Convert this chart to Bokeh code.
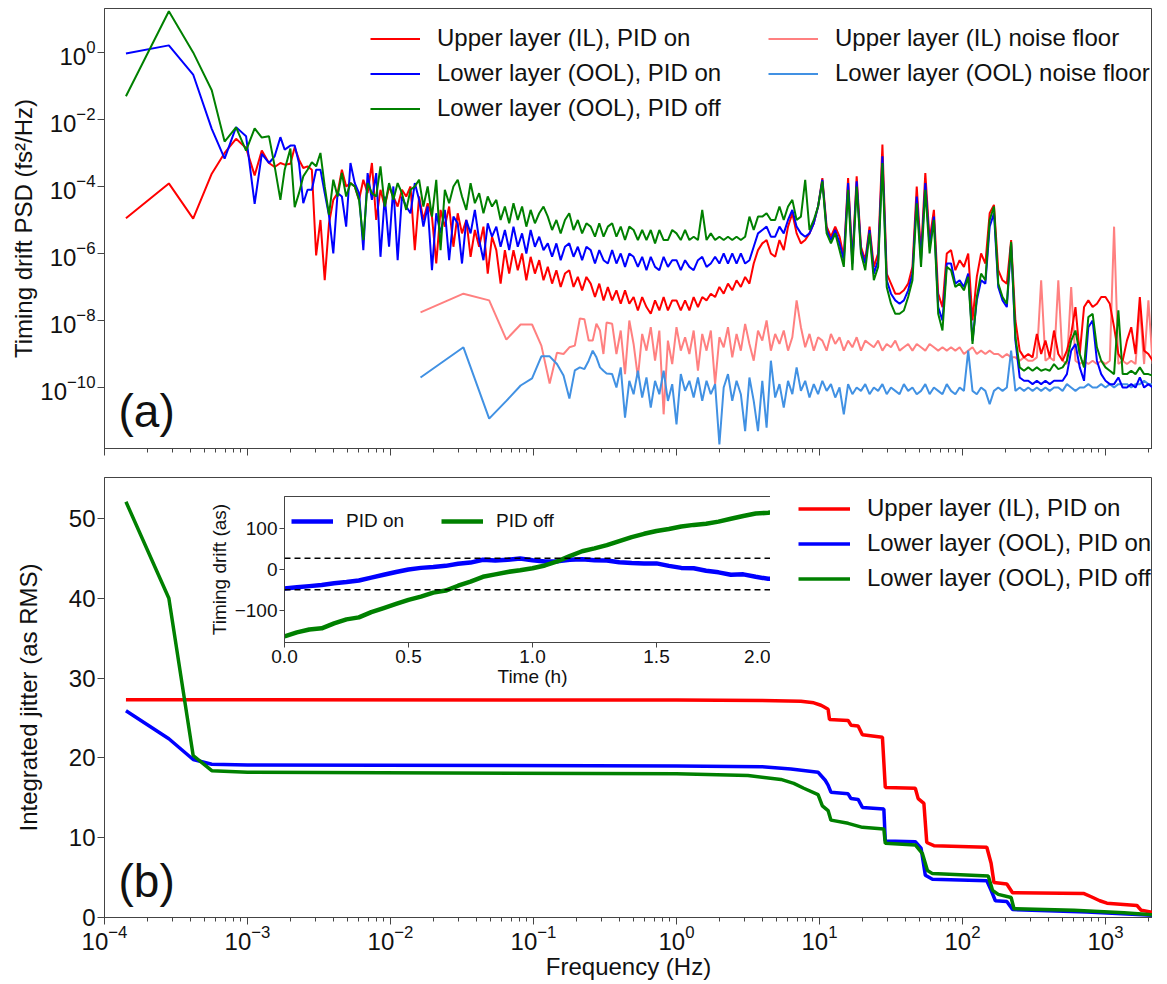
import numpy as np
from bokeh.plotting import figure
from bokeh.models import (Range1d, FixedTicker, CustomJSTickFormatter, PrintfTickFormatter,
                          Legend, LegendItem, Label, Span)
from bokeh.layouts import column
from bokeh.embed import file_html
from bokeh.resources import INLINE

FONT = "Liberation Sans"

# ---------------- (a) PSD data: log10(frequency / Hz) and log10(PSD / fs^2/Hz) ----------------
psd_logf = [
    -3.85, -3.55, -3.38, -3.25, -3.16, -3.08, -3.01, -2.95, -2.90, -2.85,
    -2.81, -2.77, -2.74, -2.70, -2.67, -2.64, -2.61, -2.58, -2.55, -2.52,
    -2.49, -2.46, -2.43,
    -2.40, -2.37, -2.34, -2.31, -2.28, -2.25, -2.22, -2.19, -2.16, -2.13,
    -2.10, -2.07, -2.04, -2.01, -1.98, -1.95, -1.92, -1.89, -1.86, -1.83,
    -1.80, -1.77, -1.74, -1.71, -1.68, -1.65, -1.62, -1.59, -1.56, -1.53,
    -1.50, -1.47, -1.44, -1.41, -1.38, -1.35, -1.32, -1.29, -1.26, -1.23,
    -1.20, -1.17, -1.14, -1.11, -1.08, -1.05, -1.02, -0.99, -0.96, -0.93,
    -0.90, -0.87, -0.84, -0.81, -0.78, -0.75, -0.72, -0.69, -0.66, -0.63,
    -0.60, -0.57, -0.54, -0.51, -0.48, -0.45, -0.42, -0.39, -0.36, -0.33,
    -0.30, -0.27, -0.24, -0.21, -0.18, -0.15, -0.12, -0.09, -0.06, -0.03,
    0.00, 0.03, 0.06, 0.09, 0.12, 0.15, 0.18, 0.21, 0.24, 0.27,
    0.30, 0.33, 0.36, 0.39, 0.42, 0.45, 0.48, 0.51, 0.54, 0.57,
    0.60, 0.63, 0.66, 0.69, 0.72, 0.75, 0.78, 0.81, 0.84, 0.87,
    0.90, 0.93, 0.96, 0.99, 1.02, 1.05, 1.08, 1.11, 1.14, 1.17,
    1.20, 1.23, 1.26, 1.29, 1.32, 1.35, 1.38, 1.41, 1.44, 1.47,
    1.50, 1.53, 1.56, 1.59, 1.62, 1.65, 1.68, 1.71, 1.74, 1.77,
    1.80, 1.83, 1.86, 1.89, 1.92, 1.95, 1.98, 2.01, 2.04, 2.07,
    2.10, 2.13, 2.16, 2.19, 2.22, 2.25, 2.28, 2.31, 2.34, 2.37,
    2.40, 2.43, 2.46, 2.49, 2.52, 2.55, 2.58, 2.61, 2.64, 2.67,
    2.70, 2.73, 2.76, 2.79, 2.82, 2.85, 2.88, 2.91, 2.94, 2.97,
    3.00, 3.03, 3.06, 3.09, 3.12, 3.15, 3.18, 3.21, 3.24, 3.27,
    3.30, 3.33, 3.36, 3.39, 3.42,
]

il_on_psd = [
    -4.95, -3.91, -4.96, -3.62, -3.0, -2.58, -2.85, -3.67, -2.93, -3.3,
    -3.42, -3.3, -3.35, -3.32, -2.83, -3.2, -3.45, -3.4, -3.5, -6.06,
    -5.0, -6.8, -5.1,
    -4.4, -4.2, -3.5, -4.0, -3.9, -4.0, -4.4, -3.8, -4.2, -3.3,
    -5.0, -4.1, -4.6, -4.0, -4.3, -4.6, -4.1, -4.3, -4.0, -5.9,
    -4.3, -5.0, -4.5, -4.9, -6.3, -4.7, -5.2, -4.6, -5.8, -4.8,
    -5.4, -5.0, -6.1, -5.3, -5.8, -5.2, -6.6, -5.5, -5.9, -6.9,
    -5.9, -6.6, -5.9, -6.5, -6.0, -6.8, -6.1, -6.6, -6.2, -6.8,
    -6.4, -6.9, -6.5, -7.0, -6.6, -6.5, -7.0, -6.7, -7.1, -6.7,
    -6.9, -7.3, -6.9, -7.4, -7.0, -7.4, -7.1, -7.5, -7.1, -7.5,
    -7.3, -7.7, -7.3, -7.6, -7.8, -7.4, -7.7, -7.3, -7.7, -7.4,
    -7.4, -7.7, -7.4, -7.7, -7.3, -7.6, -7.3, -7.4, -7.2, -7.3,
    -7.0, -7.2, -6.9, -7.1, -6.8, -7.0, -6.7, -6.9, -6.3, -5.9,
    -5.7, -5.6, -6.0, -6.1, -5.6, -5.9, -5.2, -4.8, -5.4, -5.7,
    -5.6, -5.4, -5.1, -4.6, -3.75, -5.2, -5.5, -5.2, -5.5, -6.1,
    -3.75, -6.2, -3.7, -5.8, -6.2, -5.2, -6.4, -6.0, -2.75, -6.6,
    -6.9, -7.2, -7.2, -7.1, -6.9, -6.4, -4.0, -6.0, -3.6, -5.6,
    -4.7, -7.2, -7.6, -6.0, -5.9, -6.5, -6.2, -6.4, -6.0, -8.0,
    -6.7, -6.0, -6.3, -4.8, -4.55, -6.5, -6.8, -6.9, -5.6, -8.0,
    -8.9, -9.1, -9.0, -9.1, -8.4, -9.0, -8.6, -9.1, -8.3, -9.0,
    -9.2, -8.9, -8.4, -7.6, -9.0, -7.6, -7.4, -7.6, -7.5, -7.3,
    -7.3, -7.5, -8.2, -9.0, -9.2, -8.6, -8.2, -9.0, -7.3, -8.9,
    -9.0, -9.2, -8.8, -9.1, -9.3,
]

ool_on_psd = [
    -0.03, 0.21, -0.66, -2.28, -3.17, -2.23, -2.5, -4.52, -3.03, -3.3,
    -3.1, -2.53, -2.9, -2.78, -2.78, -3.3, -4.5, -4.1, -4.1, -3.5,
    -3.5, -4.2, -4.87,
    -6.0, -4.2, -4.3, -5.2, -3.3, -3.9, -4.2, -5.9, -3.6, -4.4,
    -3.6, -6.1, -4.3, -5.8, -4.0, -6.2, -4.3, -4.6, -4.8, -3.9,
    -4.4, -5.2, -4.6, -6.5, -4.8, -5.4, -4.7, -6.2, -4.9, -5.1,
    -6.3, -5.0, -5.4, -4.7, -5.6, -6.2, -5.1, -5.5, -5.2, -5.8,
    -5.3, -5.9, -5.2, -5.8, -5.4, -6.0, -5.3, -5.8, -5.5, -5.9,
    -5.7, -6.1, -5.7, -6.2, -5.8, -5.7, -6.1, -5.8, -6.2, -5.8,
    -5.9, -6.3, -5.9, -6.2, -6.3, -5.9, -6.3, -6.0, -6.4, -6.0,
    -6.1, -6.4, -6.1, -6.5, -6.1, -6.4, -6.5, -6.1, -6.4, -6.2,
    -6.2, -6.5, -6.2, -6.4, -6.5, -6.2, -6.1, -6.4, -6.3, -6.1,
    -6.3, -6.0, -6.3, -6.0, -6.3, -6.0, -6.3, -6.2, -5.8, -5.4,
    -5.3, -5.2, -5.5, -5.5, -5.2, -5.4, -5.0, -4.7, -5.2, -5.4,
    -5.5, -5.4, -5.1, -4.6, -3.8, -5.3, -5.6, -5.3, -5.7, -6.2,
    -3.9, -6.3, -3.85, -5.9, -6.3, -5.3, -6.6, -6.2, -3.1, -6.8,
    -7.2, -7.4, -7.5, -7.4, -7.1, -6.6, -4.3, -6.2, -3.9, -5.8,
    -4.9, -7.6, -8.0, -6.3, -6.3, -6.9, -6.8, -7.0, -6.6, -8.6,
    -7.4, -6.8, -6.9, -5.2, -4.8, -7.0, -7.4, -7.6, -5.7, -8.6,
    -9.7, -9.8, -9.8, -9.9, -9.8, -9.9, -9.8, -9.9, -9.8, -9.8,
    -9.8, -9.6, -8.9, -8.7, -9.4, -9.8, -8.2, -8.0, -9.2, -9.6,
    -9.8, -9.9, -9.9, -9.7, -10.0, -10.0, -9.9, -10.0, -9.7, -10.0,
    -9.9, -10.0, -9.9, -9.9, -10.0,
]

ool_off_psd = [
    -1.31, 1.23, 0.0, -1.13, -2.66, -2.24, -2.93, -2.27, -2.54, -2.5,
    -3.4, -4.4, -3.5, -2.87, -4.62, -4.2, -3.7, -3.5, -3.28, -3.4,
    -3.0, -4.0, -4.85,
    -3.8, -4.3, -3.6, -4.3, -3.9, -4.0, -4.4, -5.6, -3.9, -4.2,
    -4.3, -3.4, -4.6, -3.9, -4.4, -3.9, -4.2, -4.7, -4.1, -4.0,
    -3.8, -4.6, -4.0, -4.9, -3.8, -5.9, -4.1, -4.5, -4.0, -3.8,
    -4.3, -4.7, -3.9, -4.5, -4.2, -4.8, -4.3, -4.6, -4.4, -5.0,
    -4.6, -5.1, -4.5, -5.0, -4.6, -5.2, -4.7, -5.1, -4.8, -4.6,
    -4.9, -5.3, -5.0, -5.4, -5.0, -4.8, -5.3, -5.0, -5.4, -5.1,
    -5.2, -5.5, -5.1, -5.5, -5.2, -5.1, -5.5, -5.2, -5.6, -5.2,
    -5.3, -5.6, -5.3, -5.6, -5.3, -5.7, -5.3, -5.6, -5.6, -5.3,
    -5.4, -5.6, -5.3, -5.6, -5.5, -5.6, -4.7, -5.6, -5.4, -5.6,
    -5.5, -5.6, -5.5, -5.6, -5.5, -5.6, -5.5, -4.9, -5.3, -4.9,
    -4.9, -4.8, -5.0, -5.0, -4.6, -5.0, -4.6, -4.4, -5.0, -4.9,
    -3.8, -5.3, -5.0, -4.6, -3.85, -5.4, -5.7, -5.4, -5.9, -6.4,
    -4.1, -6.5, -4.0, -6.0, -6.5, -5.4, -6.8, -6.4, -3.3, -7.0,
    -7.5, -7.8, -7.8, -7.7, -7.3, -6.8, -4.5, -6.4, -4.1, -6.0,
    -5.0, -7.8, -8.3, -6.4, -6.5, -7.0, -6.9, -7.1, -6.7, -8.7,
    -7.3, -6.6, -6.8, -5.0, -4.6, -6.9, -7.3, -7.5, -5.65, -8.5,
    -9.4, -9.5, -9.4, -9.5, -9.4, -9.5, -9.45, -9.5, -9.3, -9.45,
    -9.4, -9.2, -8.6, -8.3, -9.0, -9.4, -7.9, -7.8, -8.8, -9.2,
    -9.4, -9.5, -9.6, -7.7, -9.6, -9.6, -9.5, -9.6, -9.4, -9.6,
    -9.6, -9.65, -9.7, -9.7, -9.7,
]

# noise floors start at a coarser low-frequency grid, then share the main grid from -0.45
nf_low_logf = [-1.79, -1.49, -1.31, -1.19, -1.09, -1.01, -0.945, -0.887, -0.836, -0.79,
               -0.749, -0.711, -0.676, -0.644, -0.614, -0.586, -0.56, -0.535, -0.511, -0.489]
nf_logf = nf_low_logf + psd_logf[psd_logf.index(-0.45):]

il_floor_psd = [
    -7.76, -7.2, -7.4, -8.57, -8.12, -8.12, -8.75, -9.88, -8.96, -9.0,
    -8.8, -8.75, -7.94, -7.96, -8.6, -8.6, -8.1, -8.3, -9.0, -8.06,
    -8.1, -9.0, -8.3, -9.6, -8.0, -8.7, -9.7, -8.4, -8.9, -8.2,
    -9.2, -8.3, -10.8, -8.6, -9.3, -8.2, -8.9, -8.5, -9.0, -8.3,
    -9.5, -8.4, -8.9, -8.3, -9.9, -8.5, -8.8, -8.2, -9.1, -8.4,
    -8.9, -8.1, -8.7, -9.2, -8.3, -8.6, -8.0, -8.9, -8.4, -8.7,
    -8.3, -8.9, -8.5, -7.4, -8.2, -8.8, -8.4, -8.9, -8.5, -8.6,
    -8.9, -8.4, -8.7, -8.5, -8.9, -8.6, -8.8, -8.5, -8.9, -8.6,
    -8.7, -8.8, -8.6, -8.9, -8.7, -8.8, -8.6, -8.9, -8.8, -8.7,
    -8.9, -8.7, -8.8, -8.9, -8.7, -8.8, -8.9, -8.8, -8.9, -8.8,
    -8.9, -8.8, -9.0, -8.9, -8.8, -9.0, -8.9, -9.0, -8.9, -9.0,
    -9.0, -9.1, -9.0, -9.1, -9.1, -9.2, -9.1, -9.2, -9.2, -9.1,
    -6.8, -9.2, -9.1, -9.2, -6.8, -9.2, -9.3, -7.0, -9.2, -9.3,
    -9.2, -9.3, -9.2, -9.3, -9.2, -9.3, -9.2, -5.2, -9.3, -9.2,
    -9.3, -9.2, -9.3, -7.6, -9.3, -7.4, -9.3, -7.3, -9.3, -7.5,
]

ool_floor_psd = [
    -9.7, -8.8, -10.93, -10.4, -9.94, -9.73, -9.07, -9.07, -9.3, -9.64,
    -10.33, -9.49, -9.4, -9.45, -9.2, -8.9, -9.1, -9.4, -9.5, -9.58,
    -9.6, -10.0, -9.4, -10.9, -9.8, -10.2, -9.5, -10.3, -9.7, -10.6,
    -9.8, -10.2, -9.5, -10.4, -9.9, -11.1, -9.6, -10.1, -9.8, -10.3,
    -9.7, -10.4, -9.8, -10.2, -9.9, -11.7, -10.0, -9.6, -10.4, -9.8,
    -10.2, -11.3, -9.7, -10.4, -11.3, -9.8, -11.2, -9.2, -10.3, -9.9,
    -10.6, -9.8, -10.2, -9.4, -10.1, -9.8, -10.3, -9.9, -10.2, -9.8,
    -10.1, -9.9, -10.3, -10.0, -10.8, -9.9, -10.2, -10.0, -10.1, -9.9,
    -10.2, -10.0, -10.1, -9.9, -10.2, -10.0, -10.1, -10.2, -9.9, -10.1,
    -10.0, -10.2, -10.1, -9.9, -10.2, -10.0, -10.1, -10.2, -9.9, -10.1,
    -10.2, -10.0, -10.1, -8.9, -10.1, -10.2, -10.0, -10.1, -10.5, -10.1,
    -10.0, -10.1, -10.0, -8.9, -10.1, -10.0, -10.1, -10.0, -10.1, -10.0,
    -10.1, -10.0, -10.1, -10.0, -10.0, -10.1, -9.9, -10.0, -10.1, -10.0,
    -10.0, -9.9, -10.0, -10.0, -9.9, -10.0, -9.9, -10.0, -9.9, -9.9,
    -9.9, -10.0, -9.9, -9.9, -9.8, -9.9, -9.9, -9.8, -9.9, -9.8,
]

# ---------------- (b) integrated jitter (as RMS) vs log10(frequency) ----------------
il_on_jit_logf = [-3.85, 0.0, 0.6, 0.87, 0.96, 1.01, 1.03, 1.06, 1.07, 1.20, 1.22, 1.27, 1.30,
                  1.44, 1.46, 1.67, 1.69, 1.73, 1.75, 1.80, 2.17, 2.20, 2.22, 2.31, 2.35,
                  2.85, 2.90, 2.96, 3.01, 3.22, 3.25, 3.34, 3.43]
il_on_jit = [27.3, 27.25, 27.2, 27.1, 26.9, 26.6, 26.4, 26.1, 24.8, 24.7, 24.1, 24.0, 22.9,
             22.6, 16.3, 16.2, 14.9, 14.3, 9.4, 9.0, 8.8, 6.8, 4.4, 4.2, 3.1,
             3.0, 2.6, 2.1, 1.8, 1.5, 0.9, 0.6, 0.2]

ool_on_jit_logf = [-3.85, -3.55, -3.38, -3.25, -3.0, 0.0, 0.6, 0.8, 0.99, 1.04, 1.06, 1.08,
                   1.20, 1.22, 1.27, 1.30, 1.45, 1.46, 1.67, 1.71, 1.74, 1.79, 2.17, 2.20,
                   2.23, 2.31, 2.35, 2.87, 3.43]
ool_on_jit = [25.9, 22.4, 19.8, 19.2, 19.1, 19.0, 18.9, 18.6, 18.2, 17.2, 16.6, 15.7,
              15.5, 14.9, 14.8, 13.8, 13.6, 9.6, 9.5, 8.7, 5.3, 4.8, 4.6, 3.4,
              2.1, 2.0, 1.0, 0.7, 0.2]

ool_off_jit_logf = [-3.85, -3.55, -3.38, -3.25, -3.0, 0.0, 0.5, 0.73, 0.82, 0.89, 0.99, 1.02,
                    1.06, 1.08, 1.20, 1.30, 1.45, 1.46, 1.67, 1.72, 1.755, 1.79, 2.18, 2.21,
                    2.25, 2.34, 2.36, 2.78, 3.13, 3.43]
ool_off_jit = [52.1, 40.0, 20.3, 18.4, 18.2, 18.0, 17.8, 17.3, 16.8, 16.2, 15.4, 14.0,
               13.4, 12.2, 11.8, 11.3, 11.1, 9.3, 9.1, 8.0, 5.9, 5.5, 5.2, 3.4,
               2.9, 2.5, 1.1, 0.9, 0.6, 0.2]

# ---------------- inset: timing drift (as) vs time (h) ----------------
drift_t = [0.00, 0.05, 0.10, 0.15, 0.20, 0.25, 0.30, 0.35, 0.40, 0.45,
           0.50, 0.55, 0.60, 0.65, 0.70, 0.75, 0.80, 0.85, 0.90, 0.95,
           1.00, 1.05, 1.10, 1.15, 1.20, 1.25, 1.30, 1.35, 1.40, 1.45,
           1.50, 1.55, 1.60, 1.65, 1.70, 1.75, 1.80, 1.85, 1.90, 1.95, 2.00]
drift_pid_on = [-47, -44, -41, -38, -34, -31, -27, -20, -13, -6,
                0, 4, 6, 9, 14, 17, 24, 22, 24, 27,
                23, 20, 20, 24, 25, 23, 22, 18, 16, 15,
                15, 9, 4, 3, -3, -7, -13, -12, -18, -23, -22]
drift_pid_off = [-165, -155, -148, -145, -133, -123, -118, -105, -95, -85,
                 -75, -67, -57, -52, -40, -30, -18, -12, -6, -2,
                 3, 10, 20, 33, 45, 52, 60, 70, 80, 88,
                 95, 100, 106, 110, 113, 118, 125, 132, 138, 140, 143]
drift_band = [28, -50]

labels_top = ["Upper layer (IL), PID on", "Lower layer (OOL), PID on", "Lower layer (OOL), PID off",
              "Upper layer (IL) noise floor", "Lower layer (OOL) noise floor"]
labels_inset = ["PID on", "PID off"]

# ---------------- styling ----------------
RED, BLUE, GREEN = "#ff0000", "#0000ff", "#008000"
PINK, LBLUE = "#ff8080", "#4191e3"
AXC = "#444444"
TXT = "#111111"


def style_axes(p, fs="24px", tick_out=7, minor_out=4):
    for ax in p.axis:
        ax.axis_line_color = AXC
        ax.major_tick_line_color = AXC
        ax.minor_tick_line_color = AXC
        ax.major_tick_in = 0
        ax.major_tick_out = tick_out
        ax.minor_tick_in = 0
        ax.minor_tick_out = minor_out
        ax.major_label_text_font = FONT
        ax.major_label_text_font_size = fs
        ax.major_label_text_color = TXT
        ax.axis_label_text_font = FONT
        ax.axis_label_text_font_size = fs
        ax.axis_label_text_font_style = "normal"
        ax.axis_label_text_color = TXT
        ax.major_label_standoff = 2
        ax.axis_label_standoff = 2
    p.grid.visible = False
    p.outline_line_color = AXC
    p.outline_line_width = 1
    p.background_fill_color = "white"
    p.border_fill_color = "white"


def make_legend(items, loc, lw_font="24px", gw=50, standoff=17, spacing=7, h=25, orient="vertical"):
    return Legend(items=items, location=loc, orientation=orient, border_line_color=None,
                  background_fill_alpha=0, padding=0, margin=0, spacing=spacing,
                  glyph_width=gw, glyph_height=h, label_height=h, label_standoff=standoff,
                  label_text_font=FONT, label_text_font_size=lw_font, label_text_color=TXT)


FRAME_W, FRAME_H = 1048, 440
X_LO, X_HI = 1e-4, 10 ** (FRAME_W / 143 - 4)
decades = [10.0 ** d for d in range(-4, 4)]
minors = [k * 10.0 ** d for d in range(-4, 4) for k in range(2, 10)]

# ---------------- panel (a) ----------------
p1 = figure(frame_width=FRAME_W, frame_height=FRAME_H, x_axis_type="log", y_axis_type="log",
            x_range=Range1d(X_LO, X_HI), y_range=Range1d(10 ** -11.82, 10 ** 1.31),
            output_backend="svg", toolbar_location=None,
            min_border_left=104, min_border_right=0, min_border_top=8, min_border_bottom=14)
style_axes(p1)
p1.xaxis.ticker = FixedTicker(ticks=decades, minor_ticks=minors)
p1.xaxis.formatter = CustomJSTickFormatter(code="return '';")
p1.xaxis.major_label_standoff = 0
p1.yaxis.ticker = FixedTicker(ticks=[10.0 ** e for e in (-10, -8, -6, -4, -2, 0)], minor_ticks=[])
p1.yaxis.axis_label = "Timing drift PSD (fs²/Hz)"
p1.yaxis.axis_label_standoff = 0

f_main = np.power(10.0, psd_logf)
f_nf = np.power(10.0, nf_logf)
r_pink = p1.line(f_nf, np.power(10.0, il_floor_psd), line_color=PINK, line_width=2)
r_lblue = p1.line(f_nf, np.power(10.0, ool_floor_psd), line_color=LBLUE, line_width=2)
r_red = p1.line(f_main, np.power(10.0, il_on_psd), line_color=RED, line_width=2)
r_blue = p1.line(f_main, np.power(10.0, ool_on_psd), line_color=BLUE, line_width=2)
r_green = p1.line(f_main, np.power(10.0, ool_off_psd), line_color=GREEN, line_width=2)

leg1 = make_legend([LegendItem(label=labels_top[0], renderers=[r_red]),
                    LegendItem(label=labels_top[1], renderers=[r_blue]),
                    LegendItem(label=labels_top[2], renderers=[r_green])], (266, 326))
leg2 = make_legend([LegendItem(label=labels_top[3], renderers=[r_pink]),
                    LegendItem(label=labels_top[4], renderers=[r_lblue])], (664, 361))
p1.add_layout(leg1)
p1.add_layout(leg2)
p1.add_layout(Label(x=14, y=38, x_units="screen", y_units="screen", text="(a)",
                    text_font=FONT, text_font_size="46px", text_baseline="middle", text_color=TXT))

# ---------------- panel (b) ----------------
p2 = figure(frame_width=FRAME_W, frame_height=FRAME_H, x_axis_type="log",
            x_range=Range1d(X_LO, X_HI), y_range=Range1d(0, 55.14),
            output_backend="svg", toolbar_location=None,
            min_border_left=104, min_border_right=0, min_border_top=15, min_border_bottom=67)
style_axes(p2)
p2.xaxis.ticker = FixedTicker(ticks=decades, minor_ticks=minors)
p2.xaxis.axis_label = "Frequency (Hz)"
p2.xaxis.major_label_standoff = 0
p2.xaxis.axis_label_standoff = 0
p2.yaxis.ticker = FixedTicker(ticks=[0, 10, 20, 30, 40, 50], minor_ticks=[])
p2.yaxis.axis_label = "Integrated jitter (as RMS)"
p2.yaxis.axis_label_standoff = 24

j_red = p2.line(np.power(10.0, il_on_jit_logf), il_on_jit, line_color=RED, line_width=3.5)
j_blue = p2.line(np.power(10.0, ool_on_jit_logf), ool_on_jit, line_color=BLUE, line_width=3.5)
j_green = p2.line(np.power(10.0, ool_off_jit_logf), ool_off_jit, line_color=GREEN, line_width=3.5)

leg3 = make_legend([LegendItem(label=labels_top[0], renderers=[j_red]),
                    LegendItem(label=labels_top[1], renderers=[j_blue]),
                    LegendItem(label=labels_top[2], renderers=[j_green])], (694, 325), gw=52)
p2.add_layout(leg3)
p2.add_layout(Label(x=14, y=37, x_units="screen", y_units="screen", text="(b)",
                    text_font=FONT, text_font_size="46px", text_baseline="middle", text_color=TXT))

# ---------------- inset ----------------
p3 = figure(frame_width=496, frame_height=146, x_range=Range1d(0, 2), y_range=Range1d(-180, 180),
            output_backend="svg", toolbar_location=None,
            min_border_left=80, min_border_right=14, min_border_top=4, min_border_bottom=54,
            margin=(-492, 0, 0, 180))
style_axes(p3, fs="19px", tick_out=5, minor_out=0)
p3.border_fill_alpha = 0
p3.xaxis.ticker = FixedTicker(ticks=[0, 0.5, 1.0, 1.5, 2.0], minor_ticks=[])
p3.xaxis.formatter = PrintfTickFormatter(format="%.1f")
p3.yaxis.ticker = FixedTicker(ticks=[-100, 0, 100], minor_ticks=[])
p3.yaxis.formatter = CustomJSTickFormatter(code="return tick < 0 ? '\u2212' + Math.abs(tick) : String(tick);")
p3.xaxis.axis_label = "Time (h)"
p3.yaxis.axis_label = "Timing drift (as)"
p3.xaxis.axis_label_standoff = 0
p3.yaxis.axis_label_standoff = 2
for lvl in drift_band:
    p3.add_layout(Span(location=lvl, dimension="width", line_color="black",
                       line_width=1.5, line_dash="6 4"))
d_on = p3.line(drift_t, drift_pid_on, line_color=BLUE, line_width=4.5)
d_off = p3.line(drift_t, drift_pid_off, line_color=GREEN, line_width=4.5)
leg4 = make_legend([LegendItem(label=labels_inset[0], renderers=[d_on]),
                    LegendItem(label=labels_inset[1], renderers=[d_off])], (27, 110),
                   lw_font="19px", gw=42, standoff=13, spacing=37, h=22, orient="horizontal")
p3.add_layout(leg4)

layout = column(p1, p2, p3)
open("out.html", "w").write(file_html(layout, INLINE))
